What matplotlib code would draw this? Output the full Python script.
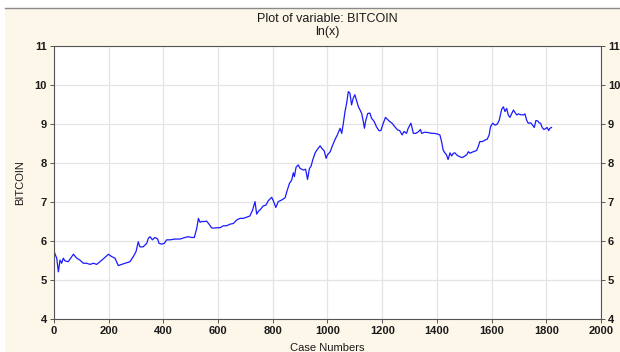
import matplotlib.pyplot as plt
from matplotlib.patches import Rectangle

plt.rcParams['font.family'] = ['Liberation Sans', 'DejaVu Sans']

# Case number and ln(price) read along the series
case_no = [0, 4, 10, 16, 22, 28, 34, 40, 52, 65, 71, 83, 95, 107, 119, 132, 144, 156,
           168, 180, 193, 199, 211, 223, 235, 247, 260, 278, 290, 300, 308, 314, 326,
           339, 345, 351, 360, 369, 379, 384, 394, 403, 412, 424, 443, 461, 479, 491,
           503, 513, 522, 528, 534, 540, 550, 558, 567, 576, 582, 595, 607, 619, 631,
           643, 656, 668, 680, 692, 704, 716, 726, 735, 741, 747, 755, 765, 775, 783,
           796, 802, 811, 820, 832, 845, 851, 861, 869, 875, 879, 885, 893, 900, 912,
           920, 927, 934, 940, 946, 955, 961, 973, 979, 988, 995, 1000, 1010, 1019,
           1028, 1036, 1046, 1052, 1058, 1064, 1070, 1076, 1082, 1088, 1094, 1100,
           1107, 1113, 1119, 1125, 1131, 1135, 1139, 1147, 1155, 1161, 1171, 1179,
           1188, 1195, 1204, 1212, 1219, 1228, 1236, 1246, 1256, 1264, 1273, 1280,
           1289, 1295, 1305, 1314, 1323, 1332, 1340, 1344, 1356, 1368, 1380, 1391,
           1403, 1411, 1417, 1423, 1429, 1435, 1441, 1448, 1454, 1460, 1466, 1472,
           1478, 1484, 1490, 1496, 1509, 1515, 1521, 1533, 1545, 1551, 1557, 1567,
           1576, 1584, 1591, 1596, 1604, 1613, 1621, 1628, 1637, 1643, 1649, 1655,
           1661, 1667, 1674, 1680, 1686, 1692, 1698, 1706, 1716, 1722, 1728, 1734,
           1743, 1750, 1756, 1762, 1768, 1774, 1779, 1785, 1791, 1797, 1803, 1809,
           1813, 1819]
ln_btc = [5.75, 5.66, 5.56, 5.21, 5.51, 5.43, 5.56, 5.49, 5.47, 5.60, 5.66, 5.56, 5.51,
          5.43, 5.43, 5.40, 5.43, 5.40, 5.47, 5.54, 5.62, 5.66, 5.60, 5.56, 5.37, 5.40,
          5.43, 5.47, 5.60, 5.73, 5.98, 5.85, 5.85, 5.94, 6.07, 6.11, 6.03, 6.09, 6.05,
          5.94, 5.92, 5.94, 6.03, 6.03, 6.05, 6.05, 6.09, 6.11, 6.09, 6.09, 6.33, 6.58,
          6.48, 6.50, 6.50, 6.51, 6.43, 6.34, 6.33, 6.34, 6.34, 6.39, 6.39, 6.43, 6.45,
          6.54, 6.58, 6.58, 6.61, 6.64, 6.79, 7.01, 6.69, 6.76, 6.81, 6.90, 6.92, 7.03,
          7.12, 7.03, 6.86, 7.01, 7.05, 7.11, 7.26, 7.48, 7.56, 7.75, 7.65, 7.89, 7.95,
          7.86, 7.82, 7.84, 7.58, 7.86, 7.92, 8.08, 8.26, 8.33, 8.44, 8.38, 8.31, 8.12,
          8.21, 8.29, 8.46, 8.61, 8.72, 8.89, 8.76, 9.02, 9.32, 9.53, 9.83, 9.79, 9.49,
          9.66, 9.75, 9.58, 9.44, 9.36, 9.27, 9.06, 8.89, 9.06, 9.27, 9.28, 9.15, 9.06,
          8.93, 8.83, 8.83, 9.02, 9.17, 9.12, 9.06, 9.02, 8.93, 8.85, 8.83, 8.72, 8.81,
          8.76, 8.89, 9.02, 8.76, 8.76, 8.80, 8.86, 8.76, 8.79, 8.78, 8.76, 8.76, 8.74,
          8.72, 8.55, 8.33, 8.26, 8.21, 8.09, 8.26, 8.18, 8.25, 8.26, 8.21, 8.18, 8.16,
          8.14, 8.15, 8.21, 8.29, 8.25, 8.29, 8.32, 8.42, 8.55, 8.55, 8.59, 8.61, 8.72,
          8.93, 9.02, 8.97, 9.00, 9.10, 9.38, 9.44, 9.32, 9.40, 9.23, 9.17, 9.27, 9.36,
          9.29, 9.23, 9.26, 9.24, 9.23, 9.26, 9.10, 9.02, 9.03, 8.97, 8.91, 9.09, 9.08,
          9.03, 9.02, 8.91, 8.86, 8.88, 8.91, 8.83, 8.89, 8.91]

x_ticks = [0, 200, 400, 600, 800, 1000, 1200, 1400, 1600, 1800, 2000]
y_ticks = [4, 5, 6, 7, 8, 9, 10, 11]

fig = plt.figure(figsize=(6.2, 3.52), dpi=100)
fig.patch.set_facecolor('white')

# cream panel behind the plot, with a grey rule along its top
fig.patches.append(Rectangle((5 / 620, 0), 1, 1 - 8 / 352, transform=fig.transFigure,
                             facecolor='#fdf7ea', edgecolor='none', zorder=-5))
fig.add_artist(plt.Line2D([5 / 620, 1], [1 - 8 / 352, 1 - 8 / 352],
                          transform=fig.transFigure, color='#8a8a8a', lw=1.0, zorder=-4))

ax = fig.add_axes([54 / 620, 1 - 319 / 352, 547 / 620, 273 / 352])
ax.set_zorder(1)
ax.set_facecolor('white')
ax.plot(case_no, ln_btc, color='#1a1aff', lw=0.9)

ax.set_xlim(0, 2000)
ax.set_ylim(4, 11)
ax.set_xticks(x_ticks)
ax.set_yticks(y_ticks)
ax.grid(True, color='#e4e4e4', lw=0.9)
ax.set_axisbelow(True)
for s in ax.spines.values():
    s.set_color('#555555')
    s.set_linewidth(0.8)

ax.tick_params(axis='both', direction='out', length=3, width=0.7, color='#555555',
               labelsize=8, labelcolor='#1a1a1a', pad=2)
ax.tick_params(axis='y', right=True, labelright=True)
for lab in ax.get_xticklabels() + ax.get_yticklabels():
    lab.set_fontweight('bold')
for lab in ax.yaxis.get_majorticklabels():
    lab.set_fontweight('bold')

ax.set_xlabel('Case Numbers', fontsize=8, color='#1a1a1a', labelpad=5)
ax.set_ylabel('BITCOIN', fontsize=8, color='#1a1a1a', labelpad=7)

fig.text(327 / 620, 1 - 19 / 352, 'Plot of variable: BITCOIN', ha='center', va='center',
         fontsize=9, color='#1a1a1a')
fig.text(327 / 620, 1 - 32 / 352, 'ln(x)', ha='center', va='center',
         fontsize=9, color='#1a1a1a')

plt.savefig('out.png', dpi=100, facecolor=fig.get_facecolor())
plt.close()
